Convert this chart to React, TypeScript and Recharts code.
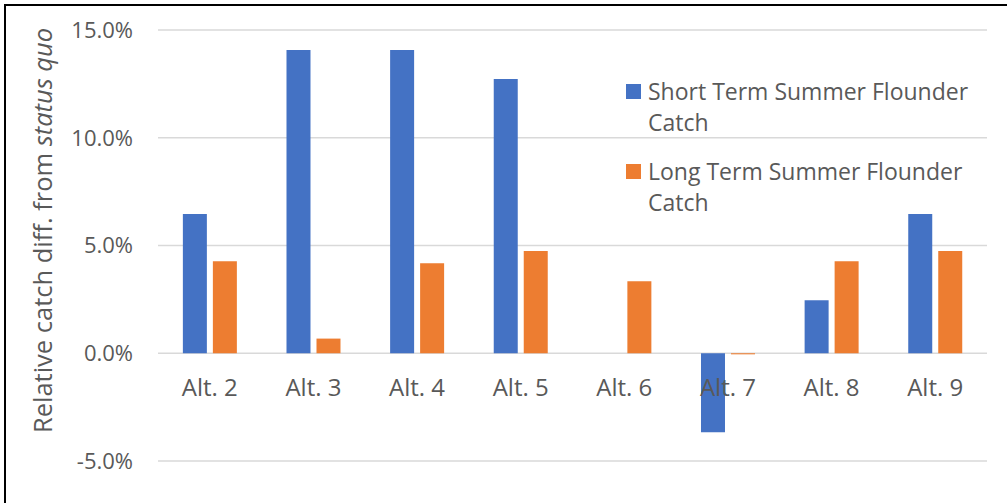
import { BarChart, Bar, XAxis, YAxis, CartesianGrid } from "recharts";

const categories = ["Alt. 2", "Alt. 3", "Alt. 4", "Alt. 5", "Alt. 6", "Alt. 7", "Alt. 8", "Alt. 9"];
const shortTerm = [6.46, 14.07, 14.07, 12.73, 0, -3.67, 2.46, 6.46];
const longTerm = [4.27, 0.68, 4.18, 4.74, 3.34, -0.05, 4.27, 4.74];
const yTicks = [-5, 0, 5, 10, 15];

const SERIES = [
  { key: "short", label: "Short Term Summer Flounder Catch", color: "#4472C4" },
  { key: "long", label: "Long Term Summer Flounder Catch", color: "#ED7D31" },
];

const data = categories.map((name, i) => ({ name, short: shortTerm[i], long: longTerm[i] }));

const W = 1007;
const H = 503;
const PLOT_TOP = 30;
const PLOT_BOTTOM = 461;
const Y_MIN = -5;
const Y_MAX = 15;
const FONT = "'Open Sans', sans-serif";
const TEXT = "#595959";

// Excel puts the category labels on the zero line, not the bottom of the plot
const zeroY = PLOT_TOP + ((PLOT_BOTTOM - PLOT_TOP) * Y_MAX) / (Y_MAX - Y_MIN);

function CategoryTick(props: any) {
  const { x, payload } = props;
  return (
    <text x={x} y={zeroY + 43} textAnchor="middle" fill={TEXT} fontSize={24} fontFamily={FONT}>
      {payload.value}
    </text>
  );
}

function YTitle(props: any) {
  const vb = props.viewBox || {};
  const cy = (vb.y ?? PLOT_TOP) + (vb.height ?? PLOT_BOTTOM - PLOT_TOP) / 2 - 15;
  const x = 52;
  return (
    <text
      x={x}
      y={cy}
      transform={`rotate(-90, ${x}, ${cy})`}
      textAnchor="middle"
      fill={TEXT}
      fontSize={25.5}
      fontFamily={FONT}
    >
      Relative catch diff. from <tspan fontStyle="italic">status quo</tspan>
    </text>
  );
}

function LegendBox() {
  return (
    <div
      style={{
        position: "absolute",
        left: 626,
        top: 76,
        fontFamily: FONT,
        fontSize: 23,
        color: TEXT,
        lineHeight: "31px",
      }}
    >
      {SERIES.map((s) => (
        <div key={s.key} style={{ display: "flex", alignItems: "flex-start", marginBottom: 18 }}>
          <span
            style={{
              width: 15,
              height: 15,
              background: s.color,
              marginTop: 8,
              marginRight: 7,
              flex: "none",
            }}
          />
          <span style={{ width: 345 }}>{s.label}</span>
        </div>
      ))}
    </div>
  );
}

export default function App() {
  return (
    <div style={{ position: "absolute", left: 0, top: 0, width: W, height: H, overflow: "hidden", background: "#fff" }}>
      <div
        style={{
          position: "absolute",
          left: 4,
          top: 4,
          width: W + 100,
          height: H + 100,
          border: "2px solid #000",
        }}
      />
      <div style={{ position: "absolute", left: 0, top: 0 }}>
        <BarChart
          width={W}
          height={H}
          data={data}
          margin={{ top: PLOT_TOP, right: 20, bottom: H - PLOT_BOTTOM - 30, left: 0 }}
          barCategoryGap="24%"
          barGap={6}
        >
          <CartesianGrid vertical={false} stroke="#d9d9d9" strokeWidth={1.5} />
          <XAxis
            dataKey="name"
            axisLine={false}
            tickLine={false}
            height={30}
            tick={<CategoryTick />}
            interval={0}
          />
          <YAxis
            width={158}
            domain={[Y_MIN, Y_MAX]}
            ticks={yTicks}
            axisLine={false}
            tickLine={false}
            tickSize={6}
            tickMargin={19}
            tickFormatter={(v: number) => `${v.toFixed(1)}%`}
            tick={{ fill: TEXT, fontSize: 22, fontFamily: FONT }}
            label={<YTitle />}
          />
          {SERIES.map((s) => (
            <Bar key={s.key} dataKey={s.key} name={s.label} fill={s.color} isAnimationActive={false} />
          ))}
        </BarChart>
      </div>
      <LegendBox />
    </div>
  );
}
